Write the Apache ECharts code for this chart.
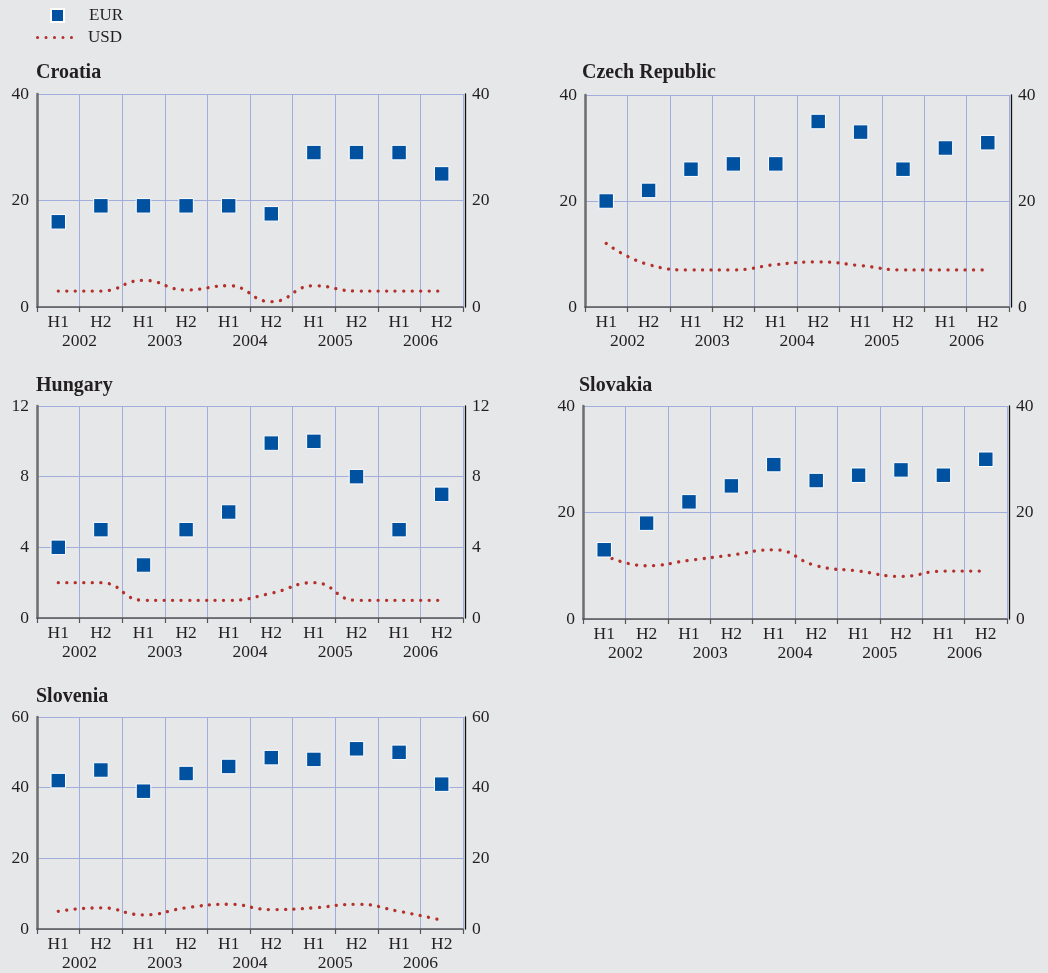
<!DOCTYPE html>
<html>
<head>
<meta charset="utf-8">
<script src="https://cdn.jsdelivr.net/npm/echarts@6/dist/echarts.min.js"></script>
<style>
  html, body { margin: 0; padding: 0; background: #e6e7e9; }
  #chart { width: 1048px; height: 973px; }
</style>
</head>
<body>
<div id="chart"></div>
<script>
// Half-year categories and the years they belong to
const halves = ['H1', 'H2', 'H1', 'H2', 'H1', 'H2', 'H1', 'H2', 'H1', 'H2'];
const years = ['2002', '2003', '2004', '2005', '2006'];

// Country names
const countries = ['Croatia', 'Czech Republic', 'Hungary', 'Slovakia', 'Slovenia'];

// EUR values per half-year
const croatiaEur  = [16, 19, 19, 19, 19, 17.5, 29, 29, 29, 25];
const czechEur    = [20, 22, 26, 27, 27, 35, 33, 26, 30, 31];
const hungaryEur  = [4, 5, 3, 5, 6, 9.9, 10, 8, 5, 7];
const slovakiaEur = [13, 18, 22, 25, 29, 26, 27, 28, 27, 30];
const sloveniaEur = [42, 45, 39, 44, 46, 48.5, 48, 51, 50, 41];

// USD values per half-year
const croatiaUsd  = [3, 3, 5, 3.2, 4, 1, 4, 3, 3, 3];
const czechUsd    = [12, 8, 7, 7, 8, 8.5, 7.8, 7, 7, 7];
const hungaryUsd  = [2, 2, 1, 1, 1, 1.4, 2, 1, 1, 1];
const slovakiaUsd = [12, 10, 11, 12, 13, 10, 9, 8, 9, 9];
const sloveniaUsd = [5, 6, 4, 6, 7, 5.5, 6, 7, 5, 2.5];

// Value-axis ranges per country
const axisMax      = [40, 40, 12, 40, 60];
const axisInterval = [20, 20, 4, 20, 20];

const eurSeries = [croatiaEur, czechEur, hungaryEur, slovakiaEur, sloveniaEur];
const usdSeries = [croatiaUsd, czechUsd, hungaryUsd, slovakiaUsd, sloveniaUsd];

// Panel placement
const panelGrids = [
  { left: 37,  top: 94,  width: 426, height: 213 },
  { left: 585, top: 95,  width: 424, height: 212 },
  { left: 37,  top: 406, width: 426, height: 212 },
  { left: 583, top: 406, width: 424, height: 213 },
  { left: 37,  top: 717, width: 426, height: 212 }
];
const titlePos = [
  { left: 36,  top: 63 },
  { left: 582, top: 63 },
  { left: 36,  top: 376 },
  { left: 579, top: 376 },
  { left: 36,  top: 687 }
];

const FONT = '"Liberation Serif", "DejaVu Serif", serif';
const TEXT = '#231f20';
const GRID_LINE = '#a2addb';
const EUR_COLOR = '#0052a1';
const USD_COLOR = '#b3302b';

// Row of five dots used as the USD legend key
const DOT_ROW = 'path://' + [1.6, 10.5, 19.4, 28.3, 37.2].map(cx =>
  'M' + (cx - 1.6) + ',1.6a1.6,1.6 0 1,0 3.2,0a1.6,1.6 0 1,0 -3.2,0Z').join('');

const option = {
  backgroundColor: '#e6e7e9',
  animation: false,
  textStyle: { fontFamily: FONT },
  legend: [
    {
      data: ['EUR'], left: 50, top: 7, padding: 0,
      itemWidth: 13, itemHeight: 13,
      textStyle: { fontFamily: FONT, fontSize: 17, color: TEXT, padding: [0, 0, 0, 20] }
    },
    {
      data: [{ name: 'USD', icon: DOT_ROW, itemStyle: { color: USD_COLOR, borderWidth: 0 } }],
      left: 36, top: 29, padding: 0,
      itemWidth: 37, itemHeight: 3.2,
      textStyle: { fontFamily: FONT, fontSize: 17, color: TEXT, padding: [0, 0, 0, 10] }
    }
  ],
  title: [],
  grid: [],
  xAxis: [],
  yAxis: [],
  series: []
};

countries.forEach((name, i) => {
  option.title.push({
    text: name, left: titlePos[i].left, top: titlePos[i].top, padding: 0,
    textStyle: { fontFamily: FONT, fontSize: 20, fontWeight: 'bold', color: TEXT }
  });
  option.grid.push(Object.assign({ containLabel: false }, panelGrids[i]));

  // Half-year axis with boundary ticks and vertical grid lines
  option.xAxis.push({
    type: 'category', gridIndex: i, data: halves, position: 'bottom',
    boundaryGap: true,
    axisLine: { show: true, lineStyle: { color: '#555', width: 1.5 } },
    axisTick: { show: true, length: 5, lineStyle: { color: '#555', width: 1.2 } },
    axisLabel: { fontFamily: FONT, fontSize: 17.5, color: TEXT, margin: 6 },
    splitLine: { show: true, lineStyle: { color: GRID_LINE, width: 1 } }
  });
  // Year labels centred under each pair of halves
  option.xAxis.push({
    type: 'category', gridIndex: i, data: years, position: 'bottom',
    axisLine: { show: false }, axisTick: { show: false },
    axisLabel: { fontFamily: FONT, fontSize: 17.5, color: TEXT, margin: 25 },
    splitLine: { show: false }
  });

  // Left value axis
  option.yAxis.push({
    type: 'value', gridIndex: i, position: 'left',
    min: 0, max: axisMax[i], interval: axisInterval[i],
    axisLine: { show: true, lineStyle: { color: '#6d6d6d', width: 2.5 } },
    axisTick: { show: false },
    axisLabel: { fontFamily: FONT, fontSize: 17.5, color: TEXT, margin: 8 },
    splitLine: { show: true, lineStyle: { color: GRID_LINE, width: 1 } }
  });
  // Right value axis (same scale)
  option.yAxis.push({
    type: 'value', gridIndex: i, position: 'right', offset: 2,
    min: 0, max: axisMax[i], interval: axisInterval[i],
    axisLine: { show: true, lineStyle: { color: '#111', width: 1.3 } },
    axisTick: { show: false },
    axisLabel: { fontFamily: FONT, fontSize: 17.5, color: TEXT, margin: 7 },
    splitLine: { show: false }
  });

  option.series.push({
    name: 'USD', type: 'line', xAxisIndex: 2 * i, yAxisIndex: 2 * i,
    data: usdSeries[i], smooth: true, symbol: 'none', z: 2,
    lineStyle: { color: USD_COLOR, width: 3.3, type: [0.1, 8.4], cap: 'round' }
  });
  option.series.push({
    name: 'EUR', type: 'scatter', xAxisIndex: 2 * i, yAxisIndex: 2 * i,
    data: eurSeries[i], symbol: 'rect', symbolSize: 14.5, z: 3,
    itemStyle: { color: EUR_COLOR, borderColor: '#ffffff', borderWidth: 1, opacity: 1 }
  });
});

const chart = echarts.init(document.getElementById('chart'), null, { renderer: 'canvas' });
chart.setOption(option);
</script>
</body>
</html>
